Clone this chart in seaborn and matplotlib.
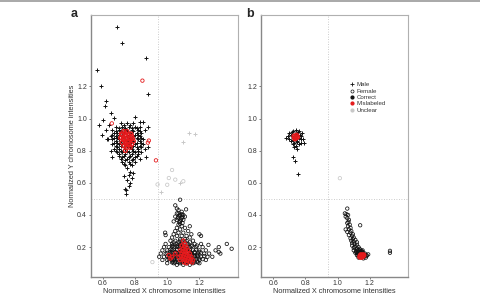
import numpy as np
import pandas as pd
import seaborn as sns
import matplotlib
matplotlib.use("Agg")
import matplotlib.pyplot as plt
from matplotlib.lines import Line2D

sns.set_style("white")
plt.rcParams['font.family'] = ['Liberation Sans', 'DejaVu Sans']

# ---------------- Panel a ----------------
a_male_correct_x = [0.69, 0.72, 0.87, 0.567, 0.59, 0.88, 0.62, 0.615, 0.653, 0.668, 0.577, 0.598, 0.629, 0.80, 0.833,
                    0.71, 0.75, 0.79,
                    0.68, 0.72, 0.76, 0.80, 0.83,
                    0.66, 0.70, 0.74, 0.78, 0.82,
                    0.67, 0.69, 0.73, 0.77, 0.81, 0.84,
                    0.65, 0.68, 0.71, 0.75, 0.79, 0.83,
                    0.66, 0.70, 0.74, 0.78, 0.82, 0.85,
                    0.67, 0.69, 0.73, 0.77, 0.81, 0.84,
                    0.68, 0.71, 0.75, 0.79, 0.83,
                    0.67, 0.70, 0.74, 0.78, 0.82, 0.86,
                    0.69, 0.72, 0.76, 0.80, 0.84,
                    0.70, 0.73, 0.77, 0.81,
                    0.71, 0.75, 0.79, 0.83,
                    0.72, 0.76, 0.80,
                    0.74, 0.78,
                    0.75, 0.77, 0.76, 0.78, 0.75, 0.77, 0.76, 0.74, 0.745, 0.745, 0.79, 0.73,
                    0.64, 0.62, 0.86, 0.88, 0.85, 0.63, 0.88, 0.87, 0.65, 0.66, 0.60,
                    0.73, 0.77,
                    0.70, 0.74, 0.78, 0.81,
                    0.68, 0.71, 0.75, 0.79, 0.83,
                    0.66, 0.70, 0.72, 0.76, 0.80, 0.82,
                    0.67, 0.69, 0.73, 0.77, 0.81, 0.84,
                    0.68, 0.71, 0.75, 0.79, 0.83,
                    0.66, 0.70, 0.72, 0.76, 0.80, 0.85,
                    0.69, 0.73, 0.77, 0.81, 0.84,
                    0.68, 0.71, 0.75, 0.79, 0.82,
                    0.70, 0.74, 0.78, 0.82,
                    0.72, 0.76, 0.80,
                    0.74, 0.78,
                    0.73, 0.77]
a_male_correct_y = [1.57, 1.47, 1.375, 1.30, 1.205, 1.15, 1.11, 1.08, 1.034, 1.003, 0.96, 0.895, 0.873, 1.007, 0.98,
                    0.97, 0.97, 0.97,
                    0.95, 0.95, 0.95, 0.95, 0.95,
                    0.93, 0.93, 0.93, 0.93, 0.93,
                    0.91, 0.91, 0.91, 0.91, 0.91, 0.91,
                    0.89, 0.89, 0.89, 0.89, 0.89, 0.89,
                    0.87, 0.87, 0.87, 0.87, 0.87, 0.87,
                    0.85, 0.85, 0.85, 0.85, 0.85, 0.85,
                    0.83, 0.83, 0.83, 0.83, 0.83,
                    0.81, 0.81, 0.81, 0.81, 0.81, 0.81,
                    0.79, 0.79, 0.79, 0.79, 0.79,
                    0.77, 0.77, 0.77, 0.77,
                    0.75, 0.75, 0.75, 0.75,
                    0.73, 0.73, 0.73,
                    0.71, 0.71,
                    0.69, 0.67, 0.65, 0.63, 0.62, 0.60, 0.58, 0.56, 0.553, 0.53, 0.66, 0.64,
                    0.96, 0.93, 0.93, 0.95, 0.98, 0.87, 0.82, 0.76, 0.80, 0.76, 0.99,
                    0.96, 0.96,
                    0.94, 0.94, 0.94, 0.94,
                    0.92, 0.92, 0.92, 0.92, 0.92,
                    0.90, 0.90, 0.90, 0.90, 0.90, 0.90,
                    0.88, 0.88, 0.88, 0.88, 0.88, 0.88,
                    0.86, 0.86, 0.86, 0.86, 0.86,
                    0.84, 0.84, 0.84, 0.84, 0.84, 0.84,
                    0.82, 0.82, 0.82, 0.82, 0.82,
                    0.80, 0.80, 0.80, 0.80, 0.80,
                    0.78, 0.78, 0.78, 0.78,
                    0.76, 0.76, 0.76,
                    0.74, 0.74,
                    0.72, 0.72]

a_male_mis_x = [0.72, 0.74, 0.76, 0.78, 0.71, 0.73, 0.75, 0.77, 0.79, 0.72, 0.74, 0.76, 0.78, 0.73, 0.75, 0.77,
                0.74, 0.76, 0.75, 0.73, 0.745, 0.765, 0.735, 0.755, 0.725, 0.775, 0.745, 0.765, 0.785, 0.715,
                0.846, 0.886, 0.88, 0.656, 0.93]
a_male_mis_y = [0.90, 0.91, 0.90, 0.89, 0.88, 0.87, 0.88, 0.87, 0.86, 0.85, 0.85, 0.84, 0.84, 0.83, 0.82, 0.82,
                0.80, 0.86, 0.92, 0.92, 0.895, 0.875, 0.865, 0.855, 0.875, 0.905, 0.835, 0.835, 0.875, 0.905,
                1.236, 0.863, 0.85, 0.97, 0.74]
a_male_mis_outliers = 5

a_fem_correct_x = [1.08, 1.05, 1.117, 1.06, 1.07, 1.09, 1.06, 1.08, 1.10, 1.05, 1.07, 1.09, 1.11, 1.06, 1.08, 1.10, 1.04,
                   1.07, 1.09, 1.06, 1.08, 1.11, 1.14, 1.05, 1.07, 1.10, 1.13, 1.04, 1.06, 1.09, 1.12, 1.15, 1.03, 1.08, 1.11, 1.14,
                   0.987, 0.99, 1.20, 1.21, 1.256, 1.32, 1.32, 1.37, 1.40, 1.30, 1.33,
                   1.02, 1.05, 1.08, 1.12, 1.16,
                   0.99, 1.03, 1.06, 1.09, 1.13, 1.17, 1.21,
                   0.98, 1.01, 1.04, 1.07, 1.10, 1.14, 1.18, 1.22,
                   0.97, 1.00, 1.03, 1.06, 1.09, 1.12, 1.16, 1.20, 1.24,
                   0.96, 0.99, 1.02, 1.05, 1.08, 1.11, 1.15, 1.19, 1.23, 1.26,
                   0.95, 0.98, 1.01, 1.04, 1.07, 1.10, 1.13, 1.17, 1.21, 1.25, 1.28,
                   0.97, 1.00, 1.03, 1.06, 1.09, 1.12, 1.16, 1.20, 1.24,
                   1.00, 1.04, 1.08, 1.12, 1.16, 1.20,
                   1.06, 1.10, 1.14,
                   1.035, 1.065, 1.095, 1.125, 1.155, 1.185,
                   1.02, 1.05, 1.08, 1.11, 1.14, 1.17, 1.20,
                   1.035, 1.065, 1.095, 1.125, 1.155, 1.185,
                   1.02, 1.05, 1.08, 1.11, 1.14, 1.17, 1.20,
                   1.035, 1.065, 1.095, 1.125, 1.155, 1.185,
                   1.03, 1.05, 1.07, 1.09, 1.11, 1.13, 1.15, 1.17, 1.19,
                   1.01, 1.04, 1.06, 1.08, 1.10, 1.12, 1.14, 1.16, 1.18, 1.22,
                   1.00, 1.02, 1.05, 1.07, 1.09, 1.11, 1.13, 1.15, 1.17, 1.19, 1.23,
                   1.00, 1.03, 1.05, 1.07, 1.09, 1.11, 1.13, 1.15, 1.17, 1.21,
                   1.02, 1.04, 1.06, 1.08, 1.10, 1.12, 1.14, 1.18,
                   1.03, 1.06, 1.08, 1.10, 1.12, 1.15,
                   1.04, 1.07, 1.09, 1.11, 1.14,
                   1.07, 1.09, 1.075, 1.095, 1.065, 1.085, 1.075, 1.095, 1.08]
a_fem_correct_y = [0.495, 0.46, 0.435, 0.44, 0.43, 0.42, 0.41, 0.40, 0.40, 0.39, 0.385, 0.38, 0.39, 0.37, 0.36, 0.37, 0.36,
                   0.34, 0.33, 0.32, 0.31, 0.32, 0.33, 0.30, 0.29, 0.29, 0.30, 0.28, 0.27, 0.27, 0.27, 0.28, 0.26, 0.25, 0.25, 0.26,
                   0.29, 0.275, 0.28, 0.27, 0.214, 0.17, 0.20, 0.22, 0.19, 0.18, 0.16,
                   0.24, 0.24, 0.24, 0.24, 0.24,
                   0.22, 0.22, 0.22, 0.22, 0.22, 0.22, 0.22,
                   0.20, 0.20, 0.20, 0.20, 0.20, 0.20, 0.20, 0.20,
                   0.18, 0.18, 0.18, 0.18, 0.18, 0.18, 0.18, 0.18, 0.18,
                   0.16, 0.16, 0.16, 0.16, 0.16, 0.16, 0.16, 0.16, 0.16, 0.16,
                   0.14, 0.14, 0.14, 0.14, 0.14, 0.14, 0.14, 0.14, 0.14, 0.14, 0.14,
                   0.12, 0.12, 0.12, 0.12, 0.12, 0.12, 0.12, 0.12, 0.12,
                   0.10, 0.10, 0.10, 0.10, 0.10, 0.10,
                   0.09, 0.09, 0.09,
                   0.21, 0.21, 0.21, 0.21, 0.21, 0.21,
                   0.17, 0.17, 0.17, 0.17, 0.17, 0.17, 0.17,
                   0.15, 0.15, 0.15, 0.15, 0.15, 0.15,
                   0.13, 0.13, 0.13, 0.13, 0.13, 0.13, 0.13,
                   0.11, 0.11, 0.11, 0.11, 0.11, 0.11,
                   0.105, 0.105, 0.105, 0.105, 0.105, 0.105, 0.105, 0.105, 0.105,
                   0.125, 0.125, 0.125, 0.125, 0.125, 0.125, 0.125, 0.125, 0.125, 0.125,
                   0.145, 0.145, 0.145, 0.145, 0.145, 0.145, 0.145, 0.145, 0.145, 0.145, 0.145,
                   0.165, 0.165, 0.165, 0.165, 0.165, 0.165, 0.165, 0.165, 0.165, 0.165,
                   0.185, 0.185, 0.185, 0.185, 0.185, 0.185, 0.185, 0.185,
                   0.205, 0.205, 0.205, 0.205, 0.205, 0.205,
                   0.23, 0.23, 0.23, 0.23, 0.23,
                   0.41, 0.405, 0.395, 0.39, 0.38, 0.37, 0.355, 0.35, 0.345]

a_fem_mis_x = [1.10, 1.11, 1.09, 1.12, 1.10, 1.13, 1.08, 1.11, 1.14, 1.09, 1.12, 1.07, 1.10, 1.13, 1.15, 1.11,
               1.08, 1.14, 1.12, 1.16, 1.01, 1.03, 1.02, 1.05,
               1.105, 1.115, 1.125, 1.095, 1.105, 1.135, 1.115, 1.095, 1.125, 1.145, 1.105, 1.155, 1.085]
a_fem_mis_y = [0.24, 0.22, 0.21, 0.20, 0.19, 0.18, 0.18, 0.17, 0.16, 0.16, 0.15, 0.14, 0.14, 0.13, 0.14, 0.12,
               0.12, 0.11, 0.10, 0.12, 0.15, 0.14, 0.13, 0.16,
               0.205, 0.185, 0.165, 0.175, 0.155, 0.145, 0.135, 0.125, 0.115, 0.125, 0.105, 0.105, 0.145]

a_male_unclear_x = [1.10, 1.134, 1.173, 1.08, 0.96]
a_male_unclear_y = [0.856, 0.91, 0.904, 0.60, 0.54]
a_fem_unclear_x = [1.03, 1.01, 1.05, 1.10, 0.94, 1.00, 0.908]
a_fem_unclear_y = [0.68, 0.63, 0.62, 0.61, 0.59, 0.588, 0.107]

# ---------------- Panel b ----------------
b_male_correct_x = [0.70, 0.72, 0.74, 0.76, 0.78, 0.69, 0.71, 0.73, 0.75, 0.77, 0.70, 0.72, 0.74, 0.76, 0.785,
                    0.71, 0.73, 0.75, 0.77, 0.72, 0.74, 0.76, 0.68, 0.79, 0.73, 0.75, 0.724, 0.735, 0.755,
                    0.715, 0.735, 0.755, 0.775, 0.725, 0.745, 0.765]
b_male_correct_y = [0.91, 0.92, 0.93, 0.92, 0.91, 0.89, 0.90, 0.89, 0.90, 0.89, 0.87, 0.88, 0.87, 0.88, 0.87,
                    0.86, 0.85, 0.86, 0.85, 0.84, 0.83, 0.84, 0.88, 0.85, 0.82, 0.81, 0.763, 0.734, 0.656,
                    0.915, 0.905, 0.915, 0.875, 0.865, 0.855, 0.895]
b_male_mis_x = [0.73, 0.745, 0.74, 0.75, 0.735]
b_male_mis_y = [0.89, 0.895, 0.88, 0.885, 0.875]

b_fem_correct_x = [1.06, 1.045, 1.055, 1.065, 1.05, 1.06, 1.07, 1.067, 1.06, 1.075, 1.065, 1.08, 1.14, 1.05, 1.07,
                   1.085, 1.06, 1.08, 1.095, 1.07, 1.09, 1.10, 1.08, 1.095, 1.11, 1.085, 1.10, 1.12, 1.09, 1.105,
                   1.12, 1.09, 1.11, 1.13, 1.10, 1.12, 1.14, 1.10, 1.115, 1.13, 1.15, 1.11, 1.125, 1.14, 1.16,
                   1.12, 1.135, 1.15, 1.17, 1.13, 1.16, 1.18, 1.19, 1.145, 1.325, 1.325,
                   1.105, 1.125, 1.135, 1.155, 1.145, 1.165, 1.175, 1.12, 1.15,
                   1.115, 1.13, 1.14, 1.155, 1.17, 1.125, 1.145, 1.16, 1.18, 1.135, 1.15, 1.165]
b_fem_correct_y = [0.44, 0.41, 0.405, 0.40, 0.39, 0.38, 0.37, 0.357, 0.35, 0.34, 0.33, 0.32, 0.336, 0.31, 0.31,
                   0.30, 0.295, 0.29, 0.28, 0.275, 0.27, 0.26, 0.255, 0.25, 0.245, 0.24, 0.235, 0.23, 0.225, 0.22,
                   0.215, 0.21, 0.205, 0.20, 0.195, 0.19, 0.185, 0.18, 0.175, 0.17, 0.175, 0.165, 0.16, 0.155, 0.16,
                   0.15, 0.145, 0.14, 0.15, 0.135, 0.13, 0.145, 0.155, 0.165, 0.177, 0.165,
                   0.20, 0.18, 0.19, 0.17, 0.175, 0.145, 0.135, 0.165, 0.155,
                   0.17, 0.18, 0.165, 0.18, 0.16, 0.15, 0.14, 0.14, 0.15, 0.155, 0.16, 0.155]
b_fem_mis_x = [1.145, 1.155, 1.15, 1.14, 1.16]
b_fem_mis_y = [0.15, 0.145, 0.14, 0.14, 0.15]
b_fem_unclear_x = [1.014]
b_fem_unclear_y = [0.629]

ticks = [0.6, 0.8, 1.0, 1.2]
yticks = [0.2, 0.4, 0.6, 0.8, 1.0, 1.2]
x_cut = 0.94
y_cut = 0.5
legend_labels = ["Male", "Female", "Correct", "Mislabeled", "Unclear"]

BLACK = "#111111"
RED = "#e41a1c"
GRAY = "#c8c8c8"


def frame(x, y):
    return pd.DataFrame({"x": x, "y": y})


def plus(ax, x, y, color, s=9, lw=0.7):
    sns.scatterplot(data=frame(x, y), x="x", y="y", ax=ax, marker="+", color=color,
                    s=s, linewidth=lw, legend=False, zorder=3)


def circ(ax, x, y, color, s=6, lw=0.55):
    sns.scatterplot(data=frame(x, y), x="x", y="y", ax=ax, marker="o", facecolor="none",
                    edgecolor=color, s=s, linewidth=lw, legend=False, zorder=3)


fig = plt.figure(figsize=(4.8, 2.95), dpi=100)
ax_a = fig.add_axes([0.189, 0.062, 0.307, 0.888])
ax_b = fig.add_axes([0.544, 0.062, 0.307, 0.888])

# panel a
n_out = a_male_mis_outliers
plus(ax_a, a_male_correct_x, a_male_correct_y, BLACK)
circ(ax_a, a_fem_correct_x, a_fem_correct_y, BLACK)
plus(ax_a, a_male_unclear_x, a_male_unclear_y, GRAY)
circ(ax_a, a_fem_unclear_x, a_fem_unclear_y, GRAY)
circ(ax_a, a_male_mis_x[:-n_out], a_male_mis_y[:-n_out], RED, s=7, lw=1.0)
circ(ax_a, a_male_mis_x[-n_out:], a_male_mis_y[-n_out:], RED, s=6, lw=0.6)
circ(ax_a, a_fem_mis_x, a_fem_mis_y, RED, s=6, lw=0.9)

# panel b
plus(ax_b, b_male_correct_x, b_male_correct_y, BLACK)
circ(ax_b, b_fem_correct_x, b_fem_correct_y, BLACK)
circ(ax_b, b_fem_unclear_x, b_fem_unclear_y, GRAY)
circ(ax_b, b_male_mis_x, b_male_mis_y, RED, s=8, lw=1.2)
circ(ax_b, b_fem_mis_x, b_fem_mis_y, RED, s=9, lw=1.4)

for ax in (ax_a, ax_b):
    ax.set_xlim(0.525, 1.44)
    ax.set_ylim(0.016, 1.646)
    ax.set_xticks(ticks)
    ax.set_yticks(yticks)
    ax.set_xticklabels([f"{t:.1f}" for t in ticks])
    ax.set_yticklabels([f"{t:.1f}" for t in yticks])
    ax.tick_params(axis="both", labelsize=5.0, length=1.5, width=0.6, color="#666666",
                   pad=1.2, labelcolor="#333333", direction="out", bottom=True, left=True)
    ax.axvline(x_cut, color="#bbbbbb", lw=0.6, ls=(0, (1, 2)), zorder=1)
    ax.axhline(y_cut, color="#bbbbbb", lw=0.6, ls=(0, (1, 2)), zorder=1)
    for side in ("top", "right"):
        ax.spines[side].set_color("#b0b0b0")
        ax.spines[side].set_linewidth(0.8)
    for side in ("left", "bottom"):
        ax.spines[side].set_color("#888888")
        ax.spines[side].set_linewidth(1.0)
    ax.set_xlabel("Normalized X chromosome intensities", fontsize=5.3, color="#333333", labelpad=0.5)
    ax.set_ylabel("")

ax_a.set_ylabel("Normalized Y chromosome intensities", fontsize=5.3, color="#333333", labelpad=1.0)

fig.text(0.148, 0.952, "a", fontsize=9, fontweight="bold", ha="left", va="center")
fig.text(0.512, 0.952, "b", fontsize=9, fontweight="bold", ha="left", va="center")

handles = [
    Line2D([], [], marker="+", ls="", color=BLACK, markersize=3.0, markeredgewidth=0.6),
    Line2D([], [], marker="o", ls="", markerfacecolor="none", markeredgecolor=BLACK, markersize=2.2, markeredgewidth=0.5),
    Line2D([], [], marker="o", ls="", color=BLACK, markersize=2.0),
    Line2D([], [], marker="o", ls="", color=RED, markersize=2.0),
    Line2D([], [], marker="o", ls="", color=GRAY, markersize=2.0),
]
ax_b.legend(handles, legend_labels, loc="upper left", bbox_to_anchor=(0.58, 0.755), frameon=False,
            fontsize=4.4, handlelength=0.8, handletextpad=0.4, labelspacing=0.18, borderpad=0,
            labelcolor="#333333")

fig.add_artist(Line2D([0, 1], [0.998, 0.998], color="#999999", lw=1.2, transform=fig.transFigure))

fig.savefig("out.png", dpi=100)
